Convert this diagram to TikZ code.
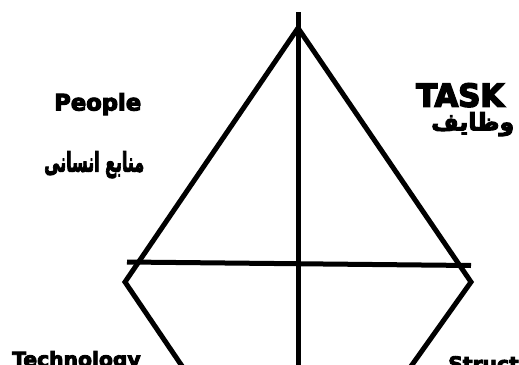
\documentclass[tikz,border=0pt]{standalone}
\usepackage{fontspec}
\usepackage{graphicx}
\setmainfont{DejaVu Sans}
\newfontfamily\heavyfont{DejaVu Sans Bold}[FakeBold=4.5]
\newfontfamily\narrowfont{DejaVu Sans Condensed Bold}[FakeBold=4.5]
\newfontfamily\arabicfont{DejaVu Sans Bold}[Script=Arabic, FakeBold=4]
\TeXXeTstate=1
\usetikzlibrary{positioning}

\begin{document}
\begin{tikzpicture}[x=1pt, y=-1pt]

\tikzstyle{edge} = [line width=5pt, line join=miter, line cap=butt];
\tikzstyle{tag} = [inner sep=0pt, anchor=north west, font=\heavyfont];

\useasboundingbox (0,0) rectangle (519,364);
\clip (0,0) rectangle (519,364);

% Ecken der Raute
\coordinate (top) at (298,12);
\coordinate (apex) at (298,28);
\coordinate (leftv) at (125,282);
\coordinate (rightv) at (471,282);
\coordinate (bottom) at (298,400);
\coordinate (leftlow) at (205,400);
\coordinate (rightlow) at (387,400);
\coordinate (hleft) at (127,262);
\coordinate (hright) at (471,265.5);

% Texte
\node (people) [tag] at (54,93) {\resizebox*{87pt}{22pt}{People}};
\node (peoplefa) [tag] at (44,151) {\resizebox*{100pt}{27pt}{\arabicfont\beginR منابع انسانی\endR}};
\node (task) [tag, font=\narrowfont] at (416,83) {\resizebox*{88pt}{24pt}{TASK}};
\node (taskfa) [tag] at (431,112) {\resizebox*{83pt}{24pt}{\arabicfont\beginR وظایف\endR}};
\node (tech) [tag, font=\heavyfont\fontsize{20.3}{20}\selectfont] at (12,351) {Technology};
\node (struct) [tag, font=\heavyfont\fontsize{20.3}{20}\selectfont] at (448,356) {Structure};

% Linien
\draw[edge] (top) -- (bottom);
\draw[edge] (leftlow) -- (leftv) -- (apex) -- (rightv) -- (rightlow);
\draw[edge] (hleft) -- (hright);

\end{tikzpicture}
\end{document}
